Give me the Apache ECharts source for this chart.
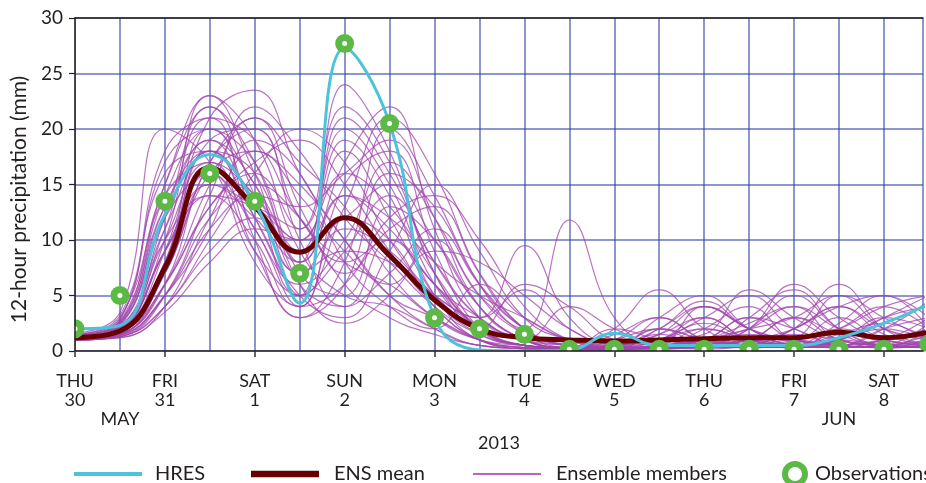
<!DOCTYPE html>
<html>
<head>
<meta charset="utf-8">
<script src="https://cdn.jsdelivr.net/npm/echarts@6/dist/echarts.min.js"></script>
<style>html,body{margin:0;padding:0;background:#fff;}#c{width:926px;height:483px;}</style>
</head>
<body>
<div id="c"></div>
<script>
// x positions are 12-hour steps starting THU 30 May 2013 00 UTC
const dayNames = ['THU','FRI','SAT','SUN','MON','TUE','WED','THU','FRI','SAT'];
const dayNums  = ['30','31','1','2','3','4','5','6','7','8'];
const monthLabels = {1: 'MAY', 17: 'JUN'};
const yearLabel = '2013';
const yTicks = [0, 5, 10, 15, 20, 25, 30];

const hres    = [2.0, 2.3, 12.3, 17.7, 13.3, 4.3, 27.3, 20.5, 3.0, 0.1, 0.0, 0.1, 1.6, 0.5, 0.5, 0.5, 0.5, 1.2, 2.5, 4.2];
const ensMean = [1.2, 1.8, 7.5, 16.5, 13.0, 8.9, 12.0, 8.6, 4.6, 2.0, 1.2, 1.0, 0.9, 1.0, 1.1, 1.2, 1.2, 1.7, 1.2, 1.7];
const observations = [2.0, 5.0, 13.5, 16.0, 13.5, 7.0, 27.7, 20.5, 3.0, 2.0, 1.5, 0.15, 0.15, 0.15, 0.15, 0.15, 0.15, 0.15, 0.15, 0.6];

const m01 = [1.2, 2.4, 12, 19, 15, 6, 4, 10, 6, 2, 0.5, 0.2, 0.5, 1.5, 3, 1, 0.5, 2, 1, 0.5];
const m02 = [1.0, 1.5, 6, 17, 20, 12, 8, 6, 3, 1, 0.3, 0.2, 1, 3, 1, 0.5, 1, 0.5, 2, 3];
const m03 = [1.5, 3.0, 15, 22, 14, 5, 9, 14, 8, 3, 1, 0.5, 0.2, 0.3, 1, 2, 4, 1, 0.5, 0.3];
const m04 = [1.1, 1.2, 4, 12, 18, 15, 10, 5, 2, 0.5, 0.2, 0.1, 0.5, 1, 2, 1, 0.5, 1.5, 2.5, 1];
const m05 = [1.3, 2.0, 9, 16, 11, 4, 15, 18, 9, 2, 0.5, 0.3, 0.2, 2, 4, 2, 0.5, 0.3, 1, 2];
const m06 = [1.2, 1.8, 7, 15, 13, 10, 18, 12, 5, 1, 0.3, 0.1, 1, 0.5, 0.3, 3, 5.5, 2, 0.5, 0.3];
const m07 = [1.4, 2.8, 18, 21, 10, 3, 6, 16, 13, 6, 2, 0.5, 0.3, 0.2, 0.5, 1, 2, 4, 2, 1];
const m08 = [1.0, 1.3, 5, 14, 22, 18, 12, 8, 4, 1.5, 0.5, 0.2, 0.1, 0.5, 1, 3, 1, 0.5, 0.3, 2];
const m09 = [1.3, 2.2, 11, 18, 12, 5, 3, 9, 15, 9, 3, 1, 0.5, 2, 1, 0.5, 0.3, 1, 3, 4];
const m10 = [1.1, 1.6, 8, 20, 17, 8, 20, 15, 6, 2, 0.5, 0.1, 0.3, 1, 3, 5, 2, 1, 0.5, 0.5];
const m11 = [1.2, 2.0, 10, 23, 19, 9, 5, 4, 2, 0.5, 0.2, 0.1, 2, 5.5, 2, 0.5, 0.3, 0.5, 1, 1.5];
const m12 = [1.0, 1.4, 5, 11, 14, 13, 16, 19, 12, 4, 1, 0.3, 0.2, 0.5, 1, 2, 3, 5, 3, 1];
const m13 = [1.6, 3.5, 20, 17, 8, 4, 12, 10, 4, 1, 0.2, 0.1, 0.5, 1, 0.5, 0.3, 1, 2, 4, 5];
const m14 = [1.2, 1.7, 6, 13, 16, 11, 22, 17, 7, 2, 0.5, 0.2, 0.1, 0.3, 2, 4, 1, 0.5, 0.3, 0.5];
const m15 = [1.3, 2.3, 13, 19, 13, 7, 11, 9, 5, 3, 9.5, 3, 0.5, 0.2, 0.3, 1, 0.5, 1, 2, 1];
const m16 = [1.1, 1.5, 7, 16, 18, 14, 9, 6, 10, 5, 2, 11.8, 3, 0.5, 0.2, 0.5, 1.5, 0.5, 0.3, 1];
const m17 = [1.2, 1.9, 9, 21, 23.5, 16, 10, 5, 3, 1, 0.3, 0.1, 0.3, 1.5, 4, 2, 0.5, 0.3, 0.5, 2.5];
const m18 = [1.4, 2.6, 14, 17, 9, 3, 8, 20, 14, 6, 1.5, 0.5, 0.2, 0.3, 0.5, 2, 6, 3, 1, 0.5];
const m19 = [1.0, 1.3, 4, 9, 12, 9, 14, 12, 8, 5, 3, 1, 0.5, 1, 0.5, 1, 2, 6, 2, 0.5];
const m20 = [1.3, 2.1, 12, 22, 17, 7, 5, 13, 10, 4, 1, 0.3, 1.5, 3, 1, 0.3, 0.5, 1, 3, 5];
const m21 = [1.2, 1.6, 6, 15, 21, 17, 13, 7, 3, 1, 0.5, 0.2, 0.5, 2, 4.5, 2, 1, 0.5, 0.3, 1];
const m22 = [1.5, 2.9, 17, 20, 12, 5, 24, 18, 7, 2, 0.5, 0.2, 0.1, 0.3, 1, 2.5, 4, 2, 1, 2];
const m23 = [1.1, 1.4, 5, 12, 15, 12, 7, 11, 13, 7, 2, 0.5, 0.2, 0.5, 1, 0.5, 0.3, 2.5, 5, 3];
const m24 = [1.3, 2.2, 10, 17, 14, 8, 17, 22, 11, 3, 1, 0.3, 2, 1, 0.5, 0.3, 0.5, 1, 0.5, 0.3];
const m25 = [1.2, 1.8, 8, 18, 16, 6, 2.5, 5, 9, 8, 5, 2, 0.5, 0.3, 0.5, 1, 3, 1, 0.5, 1.5];
const m26 = [1.0, 1.2, 3.5, 8, 11, 10, 12, 15, 10, 4, 1, 0.2, 0.5, 1, 2.5, 1, 0.5, 0.3, 1, 2];
const m27 = [1.4, 2.5, 14, 20, 15, 9, 19, 14, 5, 1.5, 0.5, 0.2, 0.3, 3, 5, 2, 0.5, 0.3, 0.5, 1];
const m28 = [1.2, 1.9, 9, 14, 10, 4, 6, 12, 14, 10, 4, 1, 0.3, 0.2, 0.5, 1.5, 1, 3, 1, 0.5];
const m29 = [1.3, 2.0, 11, 21, 19, 12, 8, 10, 6, 2, 6, 4, 1, 0.5, 0.3, 0.5, 2, 4, 1.5, 0.5];
const m30 = [1.1, 1.5, 6, 13, 17, 19, 15, 9, 4, 1, 0.3, 0.1, 0.5, 1, 1.5, 5.5, 3, 1, 0.5, 0.3];
const m31 = [1.5, 3.2, 16, 18, 11, 6, 10, 17, 12, 5, 1.5, 0.3, 0.2, 0.5, 2, 1, 0.5, 0.5, 2, 4.5];
const m32 = [1.2, 1.7, 7, 17, 21, 13, 6, 3, 1.5, 0.5, 0.2, 0.1, 0.3, 0.5, 1, 3, 2, 0.5, 0.3, 0.5];
const m33 = [1.3, 2.4, 12, 16, 9, 5, 13, 21, 16, 7, 2, 0.5, 0.3, 1, 3, 1, 0.5, 2, 4, 2];
const m34 = [1.0, 1.3, 4, 10, 16, 20, 17, 10, 5, 2, 0.5, 0.2, 1, 2, 0.5, 0.3, 1, 5, 2, 1];
const m35 = [1.4, 2.7, 15, 23, 16, 7, 9, 8, 5, 3, 5.5, 2, 0.5, 0.3, 0.5, 2, 5, 2, 0.5, 0.3];
const m36 = [1.2, 1.9, 9, 15, 12, 8, 14, 11, 6, 3, 1, 4, 2, 0.5, 0.3, 1, 0.5, 1, 3, 2];
const m37 = [1.1, 1.6, 8, 19, 20, 10, 4, 7, 11, 6, 2, 0.5, 0.2, 0.5, 4, 2, 1, 0.5, 0.3, 0.5];
const m38 = [1.3, 2.1, 10, 14, 13, 11, 21, 16, 8, 3, 1, 0.3, 0.5, 1.5, 0.5, 0.3, 2, 4, 5, 2];
const m39 = [1.2, 1.5, 5, 11, 19, 16, 8, 4, 2, 6, 3, 1, 0.3, 0.2, 0.5, 1, 3, 1.5, 0.5, 1];
const m40 = [1.4, 2.6, 13, 18, 14, 10, 16, 13, 7, 2, 0.5, 0.2, 0.5, 2, 1, 0.5, 0.3, 0.5, 1, 3];
const members = [m01,m02,m03,m04,m05,m06,m07,m08,m09,m10,m11,m12,m13,m14,m15,m16,m17,m18,m19,m20,
                 m21,m22,m23,m24,m25,m26,m27,m28,m29,m30,m31,m32,m33,m34,m35,m36,m37,m38,m39,m40];

const FONT = 'Lato';
const TXT = '#231f20';
const GRIDC = 'rgba(50,70,165,0.75)';
const HRESC = '#4cc3db', ENSC = '#660000', MEMC = 'rgba(160,70,172,0.75)', OBSC = '#5cb946';
const toXY = arr => arr.map((v, i) => [i, v]);
const XMAX = 18.87;

const series = [];
members.forEach(m => series.push({
  name: 'Ensemble members', type: 'line', data: toXY(m), smooth: 0.45,
  showSymbol: false, symbol: 'none', silent: true,
  lineStyle: {color: MEMC, width: 1.2}, z: 2
}));
series.push({
  name: 'ENS mean', type: 'line', data: toXY(ensMean), smooth: 0.45, symbol: 'none',
  lineStyle: {color: ENSC, width: 5}, z: 3
});
series.push({
  name: 'HRES', type: 'line', data: toXY(hres), smooth: 0.45, symbol: 'none',
  lineStyle: {color: HRESC, width: 3}, z: 4
});
series.push({
  name: 'Observations', type: 'scatter', data: toXY(observations), clip: false,
  symbol: 'circle', symbolSize: 12,
  itemStyle: {color: '#ffffff', borderColor: OBSC, borderWidth: 7, opacity: 1}, z: 5
});

const legendBase = {
  top: 459, padding: 5, orient: 'horizontal', itemGap: 0, selectedMode: false,
  textStyle: {fontFamily: FONT, fontSize: 20, color: TXT, lineHeight: 20}
};

const option = {
  animation: false,
  backgroundColor: '#ffffff',
  grid: {left: 75, top: 18, right: 0, bottom: 132, containLabel: false},
  // white masks just outside the plot frame, so markers sitting on the frame look cut off
  graphic: [
    {type: 'rect', z: 10, silent: true, shape: {x: 60, y: 10, width: 14.5, height: 342}, style: {fill: '#ffffff'}},
    {type: 'rect', z: 10, silent: true, shape: {x: 60, y: 351.5, width: 870, height: 12}, style: {fill: '#ffffff'}}
  ],
  xAxis: [
    {
      type: 'value', min: 0, max: XMAX, interval: 1, position: 'bottom',
      axisLine: {show: false}, axisTick: {show: false},
      splitLine: {show: true, lineStyle: {color: GRIDC, width: 1.5}},
      axisLabel: {
        show: true, margin: 21, fontFamily: FONT, fontSize: 18, color: TXT, lineHeight: 19,
        formatter: v => monthLabels[v] ? '\n\n' + monthLabels[v] : ''
      },
      name: yearLabel, nameLocation: 'middle', nameGap: 72,
      nameTextStyle: {fontFamily: FONT, fontSize: 18, color: TXT}
    },
    {
      type: 'value', min: 0, max: XMAX, interval: 2, position: 'bottom', z: 20,
      axisLine: {show: true, onZero: false, lineStyle: {color: '#231f20', width: 1.5}},
      axisTick: {show: true, length: 6, lineStyle: {color: '#333', width: 1.5}},
      splitLine: {show: false},
      axisLabel: {
        show: true, margin: 21, fontFamily: FONT, fontSize: 18, color: TXT, lineHeight: 19,
        showMaxLabel: false,
        formatter: v => (Number.isInteger(v) && v % 2 === 0) ? dayNames[v/2] + '\n' + dayNums[v/2] : ''
      }
    },
    {
      type: 'value', min: 0, max: XMAX, position: 'top', z: 20,
      axisLine: {show: true, onZero: false, lineStyle: {color: '#231f20', width: 1.5}},
      axisTick: {show: false}, axisLabel: {show: false}, splitLine: {show: false}
    }
  ],
  yAxis: [
    {
      type: 'value', min: 0, max: 30, interval: 5,
      axisLine: {show: false}, axisTick: {show: false}, axisLabel: {show: false},
      splitLine: {show: true, lineStyle: {color: GRIDC, width: 1.5}}
    },
    {
      type: 'value', min: 0, max: 30, interval: 5, position: 'left', z: 20,
      axisLine: {show: true, onZero: false, lineStyle: {color: '#231f20', width: 1.5}},
      axisTick: {show: true, length: 6, lineStyle: {color: '#231f20', width: 1.2}},
      splitLine: {show: false},
      axisLabel: {margin: 12, fontFamily: FONT, fontSize: 19, color: TXT,
        formatter: v => yTicks.includes(v) ? String(v) : ''},
      name: '12-hour precipitation (mm)', nameLocation: 'middle', nameGap: 41, nameRotate: 90,
      nameTextStyle: {fontFamily: FONT, fontSize: 21, color: TXT, padding: [0, 30, 0, 0]}
    }
  ],
  legend: [
    Object.assign({}, legendBase, {left: 69, itemWidth: 68, itemHeight: 4,
      textStyle: Object.assign({}, legendBase.textStyle, {padding: [0, 0, 0, 8]}),
      data: [{name: 'HRES', icon: 'rect', itemStyle: {color: HRESC}}]}),
    Object.assign({}, legendBase, {left: 246, itemWidth: 68, itemHeight: 6.5,
      textStyle: Object.assign({}, legendBase.textStyle, {padding: [0, 0, 0, 10]}),
      data: [{name: 'ENS mean', icon: 'rect', itemStyle: {color: ENSC}}]}),
    Object.assign({}, legendBase, {left: 468, itemWidth: 68, itemHeight: 2,
      textStyle: Object.assign({}, legendBase.textStyle, {padding: [0, 0, 0, 10]}),
      data: [{name: 'Ensemble members', icon: 'rect', itemStyle: {color: '#b865c4', opacity: 1}}]}),
    Object.assign({}, legendBase, {left: 777, top: 456, itemWidth: 20, itemHeight: 20,
      textStyle: Object.assign({}, legendBase.textStyle, {padding: [0, 0, 0, 5]}),
      data: [{name: 'Observations', icon: 'circle',
        itemStyle: {color: '#ffffff', borderColor: OBSC, borderWidth: 6}}]})
  ],
  series: series
};

const chart = echarts.init(document.getElementById('c'), null, {renderer: 'canvas'});
chart.setOption(option);
</script>
</body>
</html>
